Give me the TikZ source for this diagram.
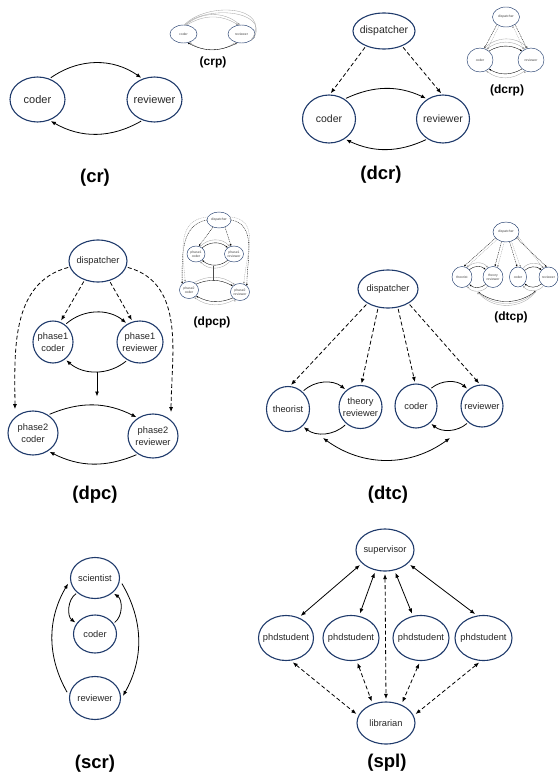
\documentclass[tikz,border=0pt]{standalone}
\usepackage{fontspec}
\setmainfont{Liberation Sans}
\usetikzlibrary{shapes.geometric,arrows.meta}
\definecolor{navy}{HTML}{1F3A6B}
\definecolor{ink}{HTML}{262626}
\definecolor{ghost}{HTML}{A6A6A6}

\begin{document}
\begin{tikzpicture}[x=1pt, y=1pt, thick,
	agent/.style={ellipse, draw=navy, line width=1.1pt, inner sep=0pt, inner xsep=-8pt, align=center, text=ink, font=\fontsize{9.3}{12}\selectfont},
	mini/.style={ellipse, draw=navy, line width=0.45pt, inner sep=0pt, inner xsep=-3pt, align=center, text=ink!85, font=\fontsize{3.4}{4}\selectfont},
	dims/.style 2 args={minimum width=#1pt, minimum height=#2pt},
	flow/.style={-{Latex[length=5pt,width=4pt]}, line width=0.8pt, shorten >=1.5pt, shorten <=1.5pt},
	call/.style={flow, dash pattern=on 4pt off 2.5pt},
	both/.style={{Latex[length=5pt,width=4pt]}-{Latex[length=5pt,width=4pt]}, line width=0.8pt, shorten >=2.5pt, shorten <=2.5pt},
	tiny/.style={-{Latex[length=2pt,width=1.8pt]}, line width=0.35pt},
	faint/.style={tiny, draw=ghost},
	tinycall/.style={dash pattern=on 1pt off 0.8pt},
	title/.style={font=\bfseries\fontsize{18.5}{20}\selectfont},
	subtitle/.style={font=\bfseries\fontsize{12}{14}\selectfont}]
	\useasboundingbox (0,0) rectangle (559,-776);

	% (cr)
	\node[agent, dims={55}{45}, font=\fontsize{11}{13}\selectfont] (crCoder) at (37.5,-99.5) {coder};
	\node[agent, dims={55}{45}, font=\fontsize{11}{13}\selectfont] (crReviewer) at (154.5,-99.5) {reviewer};
	\path[flow]
		(crCoder.60) edge[bend left=35] (crReviewer.120)
		(crReviewer.-120) edge[bend left=30] (crCoder.-60);
	\node[title] (crTitle) at (95,-178) {(cr)};

	% (crp)
	\node[mini, dims={27}{18}] (crpCoder) at (183.5,-34) {coder};
	\node[mini, dims={27}{18}] (crpReviewer) at (241.5,-34) {reviewer};
	\path[faint]
		(crpCoder.70) edge[bend left=32] (crpReviewer.110)
		(crpCoder.76) edge[bend left=40] (crpReviewer.100)
		(crpReviewer.-125) edge[bend left=34] (crpCoder.-55);
	\draw[faint] (crpCoder.80) .. controls (205,-5) and (268,-10) .. (crpReviewer.-20);
	\draw[faint] (crpCoder.85) .. controls (208,-1) and (272,-6) .. (crpReviewer.-35);
	\path[tiny] (crpReviewer.-115) edge[bend left=28] (crpCoder.-65);
	\node[subtitle] (crpTitle) at (213,-62) {(crp)};

	% (dcr)
	\node[agent, dims={62}{36}, font=\fontsize{10.5}{12}\selectfont] (dcrDispatcher) at (384,-31) {dispatcher};
	\node[agent, dims={53}{48}, font=\fontsize{10.5}{12}\selectfont] (dcrCoder) at (329,-119) {coder};
	\node[agent, dims={53}{48}, font=\fontsize{10.5}{12}\selectfont] (dcrReviewer) at (443,-119) {reviewer};
	\path[call]
		(dcrDispatcher.-140) edge (dcrCoder.88)
		(dcrDispatcher.-40) edge (dcrReviewer.92);
	\path[flow]
		(dcrCoder.52) edge[bend left=25] (dcrReviewer.128)
		(dcrReviewer.-128) edge[bend left=25] (dcrCoder.-52);
	\node[title] (dcrTitle) at (381,-175) {(dcr)};

	% (dcrp)
	\node[mini, dims={27}{20}] (dcrpDispatcher) at (506,-17) {dispatcher};
	\node[mini, dims={26}{24}] (dcrpCoder) at (480,-60) {coder};
	\node[mini, dims={26}{24}] (dcrpReviewer) at (531,-60) {reviewer};
	\path[tiny, tinycall]
		(dcrpDispatcher.-140) edge (dcrpCoder.70)
		(dcrpDispatcher.-40) edge (dcrpReviewer.110);
	\path[faint, tinycall]
		(dcrpDispatcher.-128) edge (dcrpCoder.55)
		(dcrpDispatcher.-52) edge (dcrpReviewer.125);
	\path[tiny]
		(dcrpCoder.45) edge[bend left=30] (dcrpReviewer.135)
		(dcrpReviewer.-135) edge[bend left=30] (dcrpCoder.-45);
	\path[faint]
		(dcrpCoder.60) edge[bend left=38] (dcrpReviewer.120)
		(dcrpCoder.70) edge[bend left=46] (dcrpReviewer.105)
		(dcrpReviewer.-120) edge[bend left=38] (dcrpCoder.-60);
	\node[subtitle] (dcrpTitle) at (507,-90) {(dcrp)};

	% (dpc)
	\node[agent, dims={58}{42}] (dpcDispatcher) at (98,-261) {dispatcher};
	\node[agent, dims={40}{42}] (dpcCoderA) at (53,-342) {phase1\\coder};
	\node[agent, dims={46}{42}] (dpcReviewerA) at (140,-342) {phase1\\reviewer};
	\node[agent, dims={50}{44}] (dpcCoderB) at (33,-433) {phase2\\coder};
	\node[agent, dims={50}{44}] (dpcReviewerB) at (153,-436) {phase2\\reviewer};
	\coordinate (dpcFrom) at (97,-370);
	\coordinate (dpcTo) at (97,-398);
	\path[call]
		(dpcDispatcher.-125) edge (dpcCoderA.70)
		(dpcDispatcher.-60) edge (dpcReviewerA.110)
		(dpcDispatcher.192) edge[out=195, in=90, shorten >=8pt] (dpcCoderB.north west)
		(dpcDispatcher.-12) edge[out=-15, in=90, shorten >=8pt] (dpcReviewerB.north east);
	\path[flow]
		(dpcCoderA.55) edge[bend left=40] (dpcReviewerA.125)
		(dpcReviewerA.-125) edge[bend left=40] (dpcCoderA.-55)
		(dpcFrom) edge (dpcTo)
		(dpcCoderB.50) edge[bend left=25] (dpcReviewerB.130)
		(dpcReviewerB.-130) edge[bend left=25] (dpcCoderB.-50);
	\node[title] (dpcTitle) at (95,-495) {(dpc)};

	% (dpcp)
	\node[mini, dims={24}{16}] (dpcpDispatcher) at (219,-220) {dispatcher};
	\node[mini, dims={18}{16}] (dpcpCoderA) at (196,-254) {phase1\\coder};
	\node[mini, dims={19}{16}] (dpcpReviewerA) at (234,-254) {phase1\\reviewer};
	\node[mini, dims={19}{17}] (dpcpCoderB) at (189,-290) {phase2\\coder};
	\node[mini, dims={19}{17}] (dpcpReviewerB) at (240,-292) {phase2\\reviewer};
	\coordinate (dpcpFrom) at (213,-266);
	\coordinate (dpcpTo) at (213,-281);
	\path[tiny, tinycall]
		(dpcpDispatcher.-130) edge (dpcpCoderA.70)
		(dpcpDispatcher.-50) edge (dpcpReviewerA.110)
		(dpcpDispatcher.180) edge[out=190, in=90] (dpcpCoderB.north west)
		(dpcpDispatcher.0) edge[out=-10, in=90] (dpcpReviewerB.north east);
	\path[faint, tinycall]
		(dpcpDispatcher.165) edge[out=185, in=95, looseness=1.15] (dpcpCoderB.115)
		(dpcpDispatcher.15) edge[out=-5, in=85, looseness=1.15] (dpcpReviewerB.65);
	\path[tiny]
		(dpcpCoderA.45) edge[bend left=40] (dpcpReviewerA.135)
		(dpcpReviewerA.-135) edge[bend left=40] (dpcpCoderA.-45)
		(dpcpCoderB.40) edge[bend left=25] (dpcpReviewerB.140)
		(dpcpReviewerB.-140) edge[bend left=25] (dpcpCoderB.-40);
	\path[faint]
		(dpcpCoderA.60) edge[bend left=50] (dpcpReviewerA.120)
		(dpcpReviewerA.-120) edge[bend left=50] (dpcpCoderA.-60)
		(dpcpCoderB.55) edge[bend left=32] (dpcpReviewerB.125)
		(dpcpReviewerB.-125) edge[bend left=32] (dpcpCoderB.-55);
	\path[draw=black!70, line width=0.3pt, double, double distance=0.8pt] (dpcpFrom) edge (dpcpTo);
	\node[subtitle] (dpcpTitle) at (212,-322) {(dpcp)};

	% (dtc)
	\node[agent, dims={60}{38}] (dtcDispatcher) at (388,-289) {dispatcher};
	\node[agent, dims={43}{45}] (dtcTheorist) at (288,-409) {theorist};
	\node[agent, dims={43}{43}] (dtcTheoryReviewer) at (360.5,-407) {theory\\reviewer};
	\node[agent, dims={42}{44}] (dtcCoder) at (416,-406) {coder};
	\node[agent, dims={42}{42}] (dtcReviewer) at (482,-406) {reviewer};
	\coordinate (dtcLeft) at (323,-438);
	\coordinate (dtcRight) at (450,-438);
	\path[call]
		(dtcDispatcher.-145) edge (dtcTheorist.85)
		(dtcDispatcher.-118) edge (dtcTheoryReviewer.88)
		(dtcDispatcher.-62) edge (dtcCoder.92)
		(dtcDispatcher.-35) edge (dtcReviewer.95);
	\path[flow]
		(dtcTheorist.50) edge[bend left=40] (dtcTheoryReviewer.130)
		(dtcTheoryReviewer.-130) edge[bend left=40] (dtcTheorist.-50)
		(dtcCoder.50) edge[bend left=40] (dtcReviewer.130)
		(dtcReviewer.-130) edge[bend left=40] (dtcCoder.-50);
	\path[both, shorten >=0pt, shorten <=0pt] (dtcLeft) edge[bend right=36] (dtcRight);
	\node[title] (dtcTitle) at (388,-495) {(dtc)};

	% (dtcp)
	\node[mini, dims={26}{20}] (dtcpDispatcher) at (506,-232) {dispatcher};
	\node[mini, dims={20}{21}] (dtcpTheorist) at (462,-277) {theorist};
	\node[mini, dims={20}{21}] (dtcpTheoryReviewer) at (493,-277) {theory\\reviewer};
	\node[mini, dims={17}{20}] (dtcpCoder) at (518,-277) {coder};
	\node[mini, dims={19}{20}] (dtcpReviewer) at (548.5,-277) {reviewer};
	\coordinate (dtcpLeft) at (478,-292);
	\coordinate (dtcpRight) at (536,-291);
	\path[tiny, tinycall]
		(dtcpDispatcher.-150) edge (dtcpTheorist.80)
		(dtcpDispatcher.-115) edge (dtcpTheoryReviewer.80)
		(dtcpDispatcher.-70) edge (dtcpCoder.95)
		(dtcpDispatcher.-30) edge (dtcpReviewer.100);
	\path[faint, tinycall]
		(dtcpDispatcher.-140) edge (dtcpTheorist.65)
		(dtcpDispatcher.-100) edge (dtcpTheoryReviewer.65)
		(dtcpDispatcher.-60) edge (dtcpCoder.75)
		(dtcpDispatcher.-20) edge (dtcpReviewer.120);
	\path[tiny]
		(dtcpTheorist.45) edge[bend left=40] (dtcpTheoryReviewer.135)
		(dtcpTheoryReviewer.-135) edge[bend left=40] (dtcpTheorist.-45)
		(dtcpCoder.45) edge[bend left=40] (dtcpReviewer.135)
		(dtcpReviewer.-135) edge[bend left=40] (dtcpCoder.-45)
		(dtcpLeft) edge[bend right=35, {Latex[length=2pt,width=1.8pt]}-{Latex[length=2pt,width=1.8pt]}] (dtcpRight);
	\path[faint]
		(dtcpTheorist.60) edge[bend left=55] (dtcpTheoryReviewer.120)
		(dtcpTheoryReviewer.-120) edge[bend left=55] (dtcpTheorist.-60)
		(dtcpCoder.60) edge[bend left=55] (dtcpReviewer.120)
		(dtcpReviewer.-120) edge[bend left=55] (dtcpCoder.-60)
		(dtcpLeft) edge[bend right=45, -] (dtcpRight)
		(dtcpLeft) edge[bend right=55, -] (dtcpRight);
	\node[subtitle] (dtcpTitle) at (511,-317) {(dtcp)};

	% (scr)
	\node[agent, dims={49}{41}] (scrScientist) at (95,-578) {scientist};
	\node[agent, dims={43}{38}] (scrCoder) at (95,-634) {coder};
	\node[agent, dims={51}{43}] (scrReviewer) at (95,-698) {reviewer};
	\path[flow]
		(scrScientist.-140) edge[bend right=55] (scrCoder.150)
		(scrCoder.30) edge[bend right=55] (scrScientist.-40)
		(scrReviewer.175) edge[bend left=30, shorten >=4pt, shorten <=4pt] (scrScientist.185)
		(scrScientist.-5) edge[bend left=30, shorten >=4pt, shorten <=4pt] (scrReviewer.-3);
	\node[title] (scrTitle) at (95,-764) {(scr)};

	% (spl)
	\node[agent, dims={58}{42}] (splSupervisor) at (385,-550) {supervisor};
	\node[agent, dims={55}{45}] (splStudentA) at (286,-638) {phdstudent};
	\node[agent, dims={56}{45}] (splStudentB) at (351,-638) {phdstudent};
	\node[agent, dims={56}{45}] (splStudentC) at (421,-638) {phdstudent};
	\node[agent, dims={57}{45}] (splStudentD) at (483.5,-638) {phdstudent};
	\node[agent, dims={58}{42}] (splLibrarian) at (386,-723) {librarian};
	\path[both]
		(splSupervisor.-150) edge (splStudentA.58)
		(splSupervisor.-115) edge (splStudentB.70)
		(splSupervisor.-65) edge (splStudentC.110)
		(splSupervisor.-30) edge (splStudentD.106);
	\path[both, dash pattern=on 4pt off 2.5pt]
		(splStudentA.-78) edge (splLibrarian.165)
		(splStudentB.-76) edge (splLibrarian.125)
		(splSupervisor.-90) edge (splLibrarian.90)
		(splStudentC.-92) edge (splLibrarian.50)
		(splStudentD.-96) edge (splLibrarian.15);
	\node[title] (splTitle) at (387,-763) {(spl)};
\end{tikzpicture}
\end{document}
